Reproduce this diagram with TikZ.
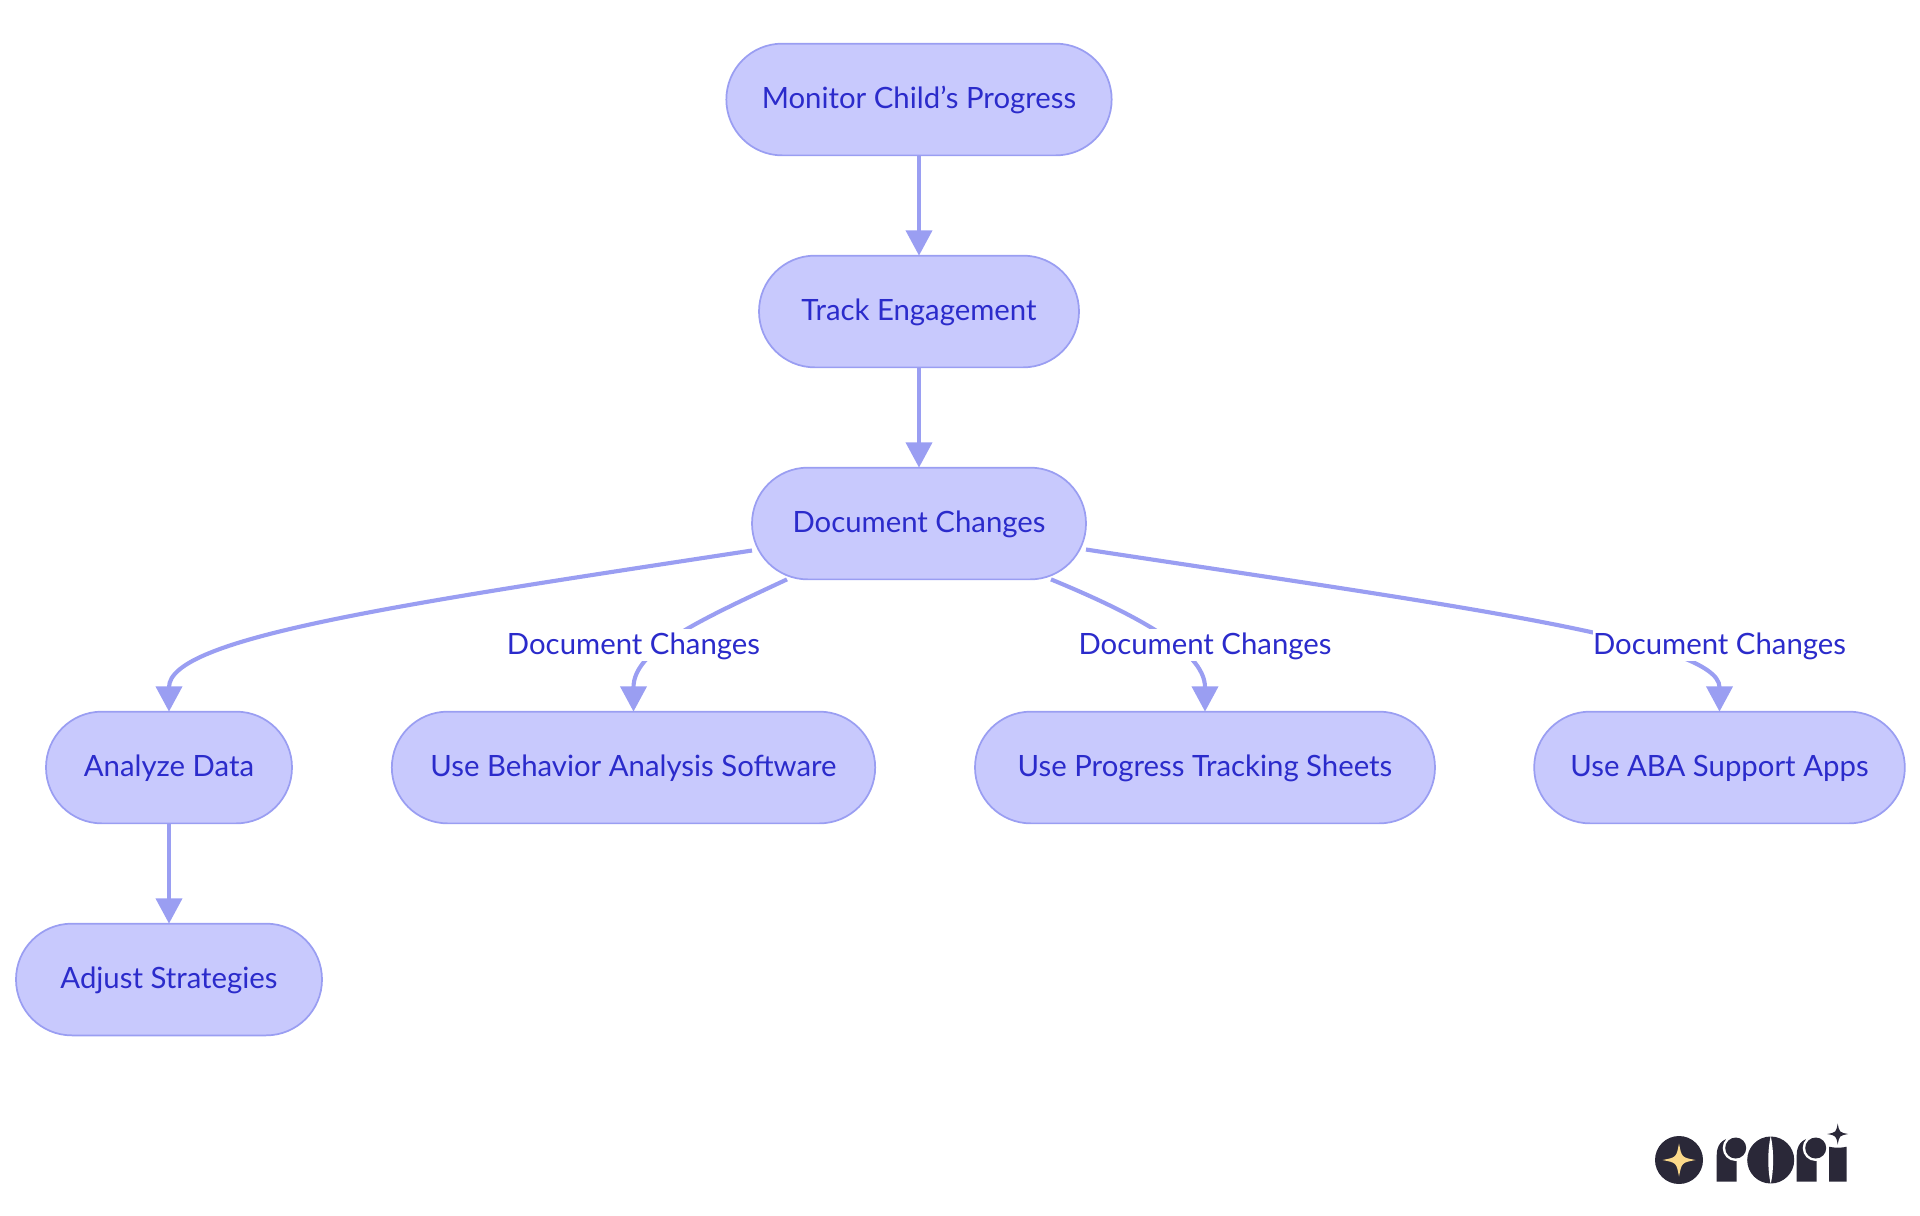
\documentclass[tikz,border=0pt]{standalone}
\usepackage{fontspec}
\setmainfont{Lato}
\usetikzlibrary{shapes.misc,arrows.meta,calc}
\definecolor{nodefill}{HTML}{C8C9FD}
\definecolor{edgecol}{HTML}{9A9EF2}
\definecolor{txtcol}{HTML}{2B2BCB}
\definecolor{logodark}{HTML}{2A2838}
\definecolor{logostar}{HTML}{FBD98A}
\tikzset{
  pill/.style={rounded rectangle,draw=edgecol,fill=nodefill,line width=1.3pt,text=txtcol,outer sep=0pt,
    font=\fontsize{22}{26}\selectfont,text height=18pt,text depth=4.5pt,minimum height=83.8pt,inner xsep=0pt,inner ysep=0pt},
  edgeline/.style={draw=edgecol,line width=3.1pt,-{Triangle[length=19pt,width=19.5pt]}},
  elabel/.style={fill=white,text=txtcol,font=\fontsize{22}{26}\selectfont,text height=18pt,text depth=4.5pt,inner xsep=0pt,inner ysep=0pt,minimum height=24.5pt,minimum width=190pt}
}
\newcommand{\fourstar}[4]{%
  \fill[#4] (#1,#2-#3) .. controls (#1+0.16*#3,#2-0.16*#3) .. (#1+#3,#2)
   .. controls (#1+0.16*#3,#2+0.16*#3) .. (#1,#2+#3)
   .. controls (#1-0.16*#3,#2+0.16*#3) .. (#1-#3,#2)
   .. controls (#1-0.16*#3,#2-0.16*#3) .. cycle;}
\begin{document}
\begin{tikzpicture}[x=0.75pt,y=-0.75pt]
\useasboundingbox (0,0) rectangle (1920,1215);
\node[pill,minimum width=289pt] (mon) at (919,99.5) {Monitor Child’s Progress};
\node[pill,minimum width=240pt] (track) at (919,311.5) {Track Engagement};
\node[pill,minimum width=250.5pt] (doc) at (919,523.5) {Document Changes};
\node[pill,minimum width=184.5pt] (ana) at (169,767.5) {Analyze Data};
\node[pill,minimum width=362.5pt] (beh) at (633.5,767.5) {Use Behavior Analysis Software};
\node[pill,minimum width=345pt] (pro) at (1205,767.5) {Use Progress Tracking Sheets};
\node[pill,minimum width=278pt] (aba) at (1719.5,767.5) {Use ABA Support Apps};
\node[pill,minimum width=229.5pt] (adj) at (169,979.5) {Adjust Strategies};
\draw[edgeline] (mon.south) -- (track.north);
\draw[edgeline] (track.south) -- (doc.north);
\draw[edgeline] (ana.south) -- (adj.north);
\draw[edgeline] ($(doc.west)+(0,27)$) .. controls (395,605) and (169,638) .. (ana.north);
\draw[edgeline] ($(doc.south)+(-132,0)$) .. controls (700,620) and (633.5,650) .. (beh.north);
\draw[edgeline] ($(doc.south)+(132,0)$) .. controls (1130,612) and (1205,650) .. (pro.north);
\draw[edgeline] ($(doc.east)+(0,26)$) .. controls (1450,605) and (1719.5,640) .. (aba.north);
\node[elabel] (l1) at (633.5,645) {Document Changes};
\node[elabel] (l2) at (1205,645) {Document Changes};
\node[elabel] (l3) at (1719.5,645) {Document Changes};
% logo
\fill[logodark] (1679,1160) circle[radius=24];
\fourstar{1679}{1160}{16.5}{logostar}
% r
\fill[logodark] (1716.7,1181.7) -- (1716.7,1155) .. controls (1716.7,1145) and (1722,1138) .. (1733,1138) -- (1736.7,1138) -- (1736.7,1181.7) -- cycle;
\fill[white] (1735.7,1148) circle[radius=13];
\fill[logodark] (1735.7,1148) circle[radius=10.5];
% o
\fill[logodark] (1770.7,1160) circle[radius=23.5];
\fill[white] (1770.7,1136) .. controls (1767.5,1150) and (1767.5,1170) .. (1770.7,1184) .. controls (1773.9,1170) and (1773.9,1150) .. cycle;
% r
\fill[logodark] (1796.7,1181.7) -- (1796.7,1155) .. controls (1796.7,1145) and (1802,1138) .. (1813,1138) -- (1816.7,1138) -- (1816.7,1181.7) -- cycle;
\fill[white] (1815.7,1148) circle[radius=13];
\fill[logodark] (1815.7,1148) circle[radius=10.5];
% i
\fill[logodark] (1829,1181.7) -- (1829,1146.7) .. controls (1834,1148) and (1842,1148) .. (1846.7,1146.7) -- (1846.7,1181.7) -- cycle;
\fourstar{1837.7}{1134}{10.5}{logodark}
\end{tikzpicture}
\end{document}
